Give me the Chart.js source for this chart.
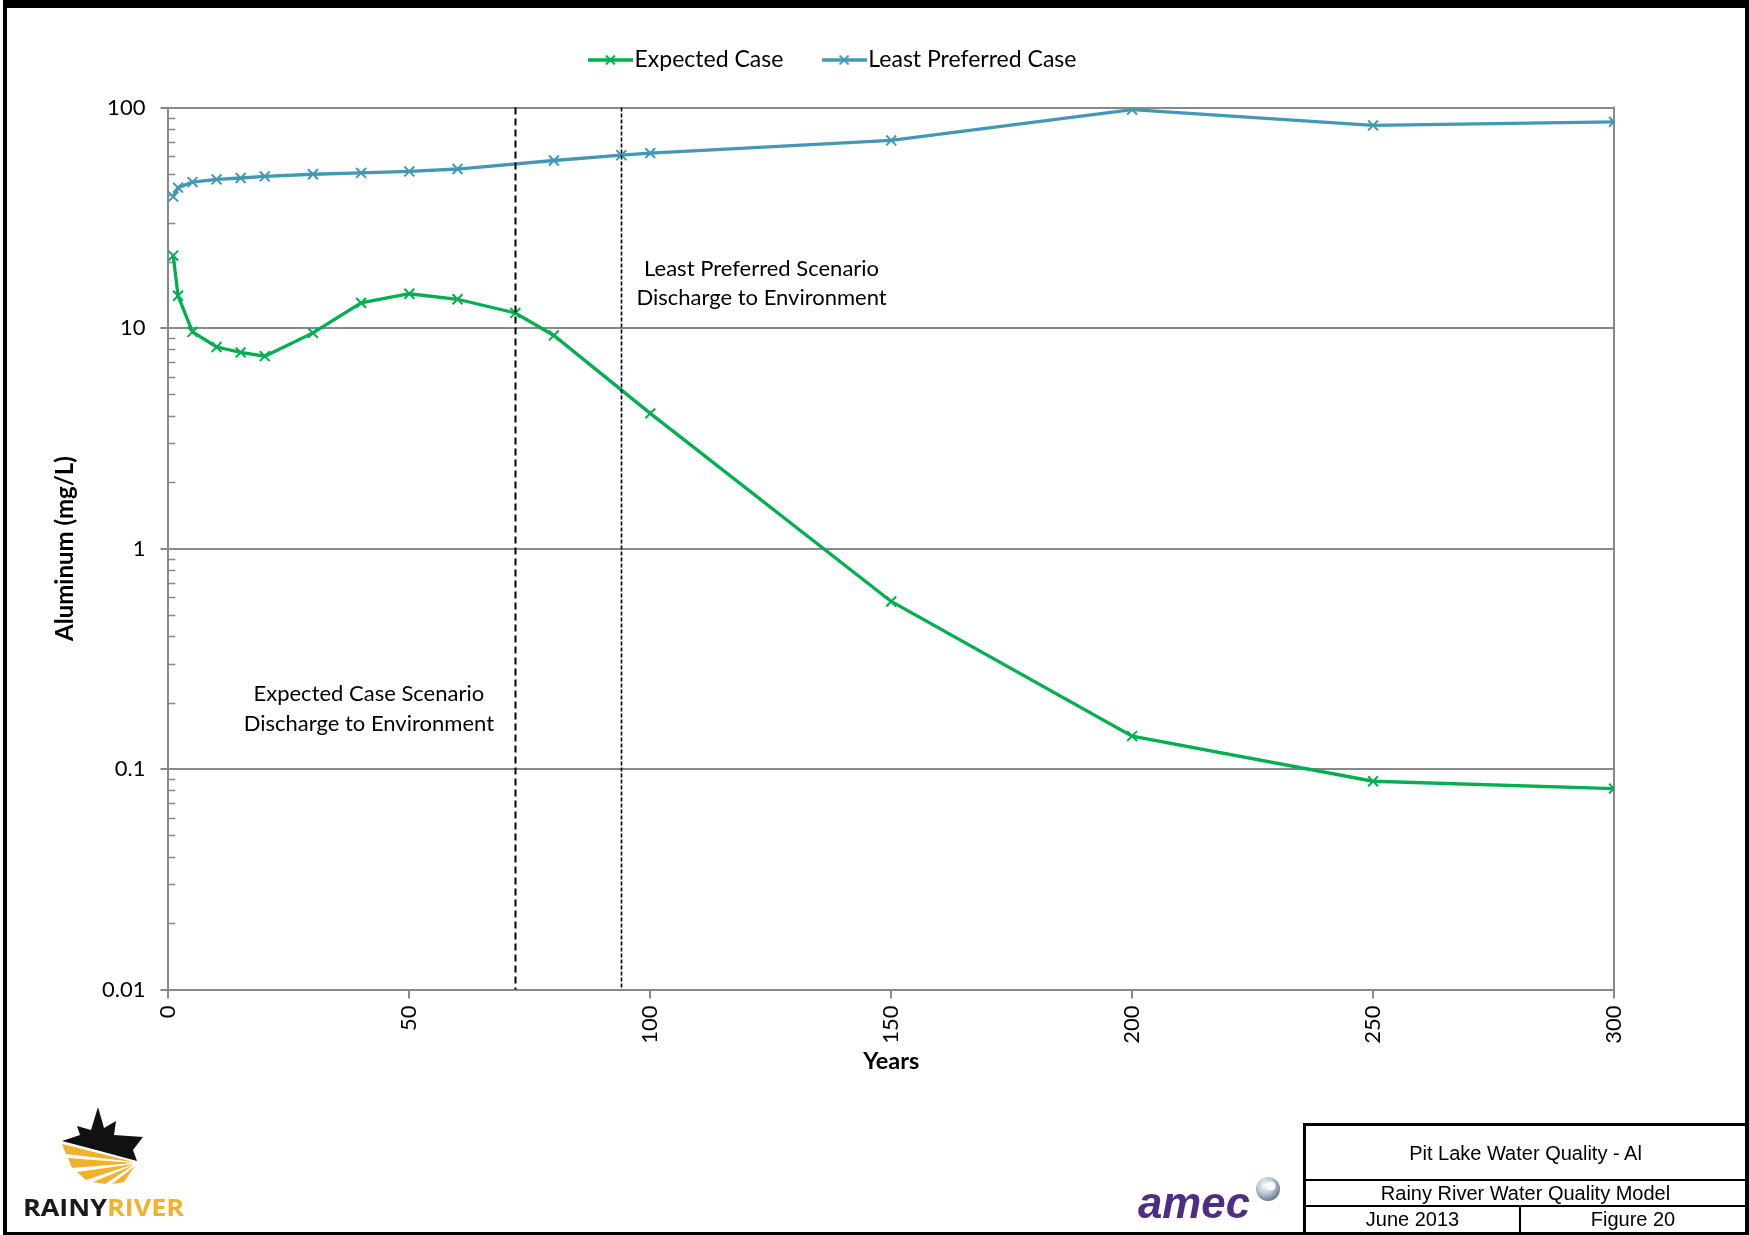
<!DOCTYPE html>
<html>
<head>
<meta charset="utf-8">
<script src="https://cdn.jsdelivr.net/npm/chart.js@4/dist/chart.umd.min.js"></script>
<style>
html,body{margin:0;padding:0;background:#fff;}
#wrap{position:relative;width:1749px;height:1235px;overflow:hidden;background:#fff;}
#c{position:absolute;left:0;top:0;}
#frame{position:absolute;left:3px;top:0;width:1746px;height:1235px;box-sizing:border-box;border-style:solid;border-color:#000;border-width:8px 4px 3px 4px;pointer-events:none;}
.bl{position:absolute;background:#000;}
.tt{position:absolute;text-align:center;font-family:"Liberation Sans",Arial,sans-serif;font-size:20px;color:#000;white-space:nowrap;}
svg{position:absolute;overflow:visible;}
</style>
</head>
<body>
<div id="wrap">
<canvas id="c" width="1749" height="1235"></canvas>

<!-- Rainy River logo -->
<svg style="left:0;top:0" width="260" height="1235" viewBox="0 0 260 1235">
  <polygon fill="#111" points="98,1107 104,1128 116,1121 114,1135 143,1137 133,1150 137,1161 100,1151 62,1141 80,1135 77,1126 91,1130"/>
  <polygon fill="#F2B12B" points="134,1162 62,1144 66,1154"/>
  <polygon fill="#F2B12B" points="134,1163 68,1158 72,1168"/>
  <polygon fill="#F2B12B" points="134,1164 77,1172 86,1180"/>
  <polygon fill="#F2B12B" points="134,1165 93,1182 105,1184"/>
  <polygon fill="#F2B12B" points="135,1166 112,1184 124,1182"/>
  <text x="23" y="1216" font-family="Open Sans, Lato, sans-serif" font-weight="700" font-size="24" textLength="161" lengthAdjust="spacingAndGlyphs"><tspan fill="#1a1a1a">RAINY</tspan><tspan fill="#F2B12B">RIVER</tspan></text>
</svg>

<!-- amec logo -->
<svg style="left:1130px;top:1170px" width="160" height="60" viewBox="0 0 160 60">
  <defs>
    <radialGradient id="ball" cx="0.4" cy="0.35" r="0.7">
      <stop offset="0" stop-color="#ffffff"/>
      <stop offset="0.5" stop-color="#b9c6d4"/>
      <stop offset="1" stop-color="#5f7286"/>
    </radialGradient>
  </defs>
  <text x="8" y="48" font-family="Liberation Sans, Arial, sans-serif" font-weight="700" font-style="italic" font-size="44" fill="#4F2D84" textLength="112" lengthAdjust="spacingAndGlyphs">amec</text>
  <circle cx="138" cy="19" r="12" fill="url(#ball)"/>
  <circle cx="141" cy="16" r="4.5" fill="#ffffff" opacity="0.9"/>
</svg>

<!-- title block -->
<div class="bl" style="left:1303px;top:1123px;width:446px;height:3px;"></div>
<div class="bl" style="left:1303px;top:1123px;width:3px;height:112px;"></div>
<div class="bl" style="left:1303px;top:1179px;width:446px;height:2px;"></div>
<div class="bl" style="left:1303px;top:1205px;width:446px;height:2px;"></div>
<div class="bl" style="left:1519px;top:1205px;width:2px;height:30px;"></div>
<div class="tt" style="left:1306px;top:1127px;width:439px;height:52px;line-height:52px;">Pit Lake Water Quality - Al</div>
<div class="tt" style="left:1306px;top:1181px;width:439px;height:24px;line-height:24px;">Rainy River Water Quality Model</div>
<div class="tt" style="left:1306px;top:1207px;width:213px;height:25px;line-height:25px;">June 2013</div>
<div class="tt" style="left:1521px;top:1207px;width:224px;height:25px;line-height:25px;">Figure 20</div>

<div id="frame"></div>
</div>

<script>
// ---- data ----
const expectedYears = [1, 2, 5, 10, 15, 20, 30, 40, 50, 60, 72, 80, 100, 150, 200, 250, 300];
const expectedAl    = [21.3, 14.0, 9.6, 8.2, 7.75, 7.45, 9.5, 13.0, 14.3, 13.5, 11.7, 9.25, 4.1, 0.575, 0.141, 0.088, 0.0815];
const leastYears    = [1, 2, 5, 10, 15, 20, 30, 40, 50, 60, 80, 94, 100, 150, 200, 250, 300];
const leastAl       = [39.4, 43.3, 45.9, 47.2, 47.9, 48.7, 49.8, 50.5, 51.3, 52.6, 57.5, 60.8, 62.1, 70.9, 97.9, 82.9, 86.1];
const seriesNames   = ['Expected Case', 'Least Preferred Case'];
const seriesColors  = ['#00B050', '#4298B5'];
const yTickValues   = [0.01, 0.1, 1, 10, 100];
const yTickLabels   = ['0.01', '0.1', '1', '10', '100'];
const xTickValues   = [0, 50, 100, 150, 200, 250, 300];
const dischargeYears = [72, 94];
const noteLines = [
  ['Least Preferred Scenario', 'Discharge to Environment'],
  ['Expected Case Scenario', 'Discharge to Environment']
];
const axisTitles = {x: 'Years', y: 'Aluminum (mg/L)'};

// ---- styling ----
const GRID = '#898989';
const FONT = 'Lato, "Open Sans", sans-serif';

function makeIcon(color) {
  const c = document.createElement('canvas');
  c.width = 45; c.height = 14;
  const g = c.getContext('2d');
  g.strokeStyle = color;
  g.lineWidth = 3.3;
  g.beginPath(); g.moveTo(0, 7); g.lineTo(45, 7); g.stroke();
  g.lineWidth = 2;
  g.beginPath(); g.moveTo(18, 2.5); g.lineTo(27, 11.5); g.moveTo(27, 2.5); g.lineTo(18, 11.5); g.stroke();
  return c;
}
const icons = seriesColors.map(makeIcon);

const toPts = (xs, ys) => xs.map((x, i) => ({x: x, y: ys[i]}));

const overlay = {
  id: 'overlay',
  afterLayout(chart) {
    // nudge the legend row to its position in the reference
    if (chart.legend) { chart.legend.left += 10; chart.legend.right += 10; }
  },
  beforeDatasetsDraw(chart) {
    const {ctx, chartArea: a, scales: {y}} = chart;
    ctx.save();
    ctx.strokeStyle = GRID;
    ctx.lineWidth = 2;
    ctx.beginPath();
    ctx.moveTo(a.right, a.top - 1);
    ctx.lineTo(a.right, a.bottom);
    ctx.stroke();
    // minor log ticks inside the axis
    ctx.lineWidth = 1.5;
    ctx.beginPath();
    for (let d = 0; d < yTickValues.length - 1; d++) {
      for (let k = 2; k <= 9; k++) {
        const py = Math.round(y.getPixelForValue(yTickValues[d] * k)) + 0.5;
        ctx.moveTo(a.left, py);
        ctx.lineTo(a.left + 7, py);
      }
    }
    ctx.stroke();
    ctx.restore();
  },
  afterDatasetsDraw(chart) {
    const {ctx, chartArea: a, scales: {x, y}} = chart;
    ctx.save();
    const dashes = [[7, 4], [4, 2]];
    const widths = [2, 1.6];
    dischargeYears.forEach((yr, i) => {
      const px = Math.round(x.getPixelForValue(yr)) + 0.5;
      ctx.setLineDash(dashes[i]);
      ctx.lineWidth = widths[i];
      ctx.strokeStyle = '#000';
      ctx.beginPath();
      ctx.moveTo(px, a.top);
      ctx.lineTo(px, a.bottom);
      ctx.stroke();
    });
    ctx.setLineDash([]);
    ctx.fillStyle = '#000';
    ctx.font = '22px ' + FONT;
    ctx.textAlign = 'center';
    ctx.textBaseline = 'middle';
    const anchors = [[123.1, 18.56], [41.6, 0.219]];
    noteLines.forEach((lines, i) => {
      const cx = x.getPixelForValue(anchors[i][0]);
      const cy = y.getPixelForValue(anchors[i][1]);
      lines.forEach((t, j) => ctx.fillText(t, cx, cy + j * 29.5));
    });
    ctx.restore();
  }
};

function seriesDataset(i, xs, ys) {
  return {
    label: seriesNames[i],
    data: toPts(xs, ys),
    borderColor: seriesColors[i],
    backgroundColor: seriesColors[i],
    borderWidth: 3.3,
    pointStyle: 'crossRot',
    pointRadius: 7,
    pointBorderWidth: 2,
    pointBorderColor: seriesColors[i],
    tension: 0,
    fill: false
  };
}

new Chart(document.getElementById('c'), {
  type: 'line',
  data: {
    datasets: [
      seriesDataset(0, expectedYears, expectedAl),
      seriesDataset(1, leastYears, leastAl)
    ]
  },
  options: {
    responsive: false,
    animation: false,
    devicePixelRatio: 1,
    layout: {padding: {left: 40, right: 135, top: 0.5, bottom: 150}},
    plugins: {
      tooltip: {enabled: false},
      legend: {
        display: true,
        position: 'top',
        labels: {
          usePointStyle: true,
          pointStyleWidth: 25.5,
          padding: 48,
          color: '#000',
          font: {family: FONT, size: 23},
          generateLabels(chart) {
            const items = Chart.defaults.plugins.legend.labels.generateLabels(chart);
            items.forEach((it, i) => { it.pointStyle = icons[i]; });
            return items;
          }
        }
      },
      subtitle: {
        display: true,
        text: '',
        weight: 500,
        position: 'top',
        padding: {top: 16, bottom: 0},
        font: {size: 10, lineHeight: 1}
      }
    },
    scales: {
      x: {
        type: 'linear',
        min: 0,
        max: 300,
        afterBuildTicks(s) { s.ticks = xTickValues.map(v => ({value: v})); },
        afterFit(s) { s.height = 95.5; },
        grid: {display: true, drawOnChartArea: false, drawTicks: true, tickLength: 9, color: GRID, lineWidth: 2},
        border: {display: true, color: GRID, width: 2},
        ticks: {
          autoSkip: false, maxRotation: 90, minRotation: 90, padding: 7,
          color: '#000', font: {family: FONT, size: 22}
        },
        title: {
          display: true, text: axisTitles.x, color: '#000',
          font: {family: FONT, size: 23.5, weight: 'bold', lineHeight: 1.2},
          padding: {top: 0, bottom: 9.9}
        }
      },
      y: {
        type: 'logarithmic',
        min: 0.01,
        max: 100,
        afterBuildTicks(s) { s.ticks = yTickValues.map(v => ({value: v})); },
        afterFit(s) { s.width = 128.4; },
        grid: {display: true, drawOnChartArea: true, drawTicks: true, tickLength: 8, color: GRID, lineWidth: 2},
        border: {display: true, color: GRID, width: 2},
        ticks: {
          padding: 15,
          color: '#000',
          font: {family: FONT, size: 22},
          callback(v) {
            const i = yTickValues.findIndex(t => Math.abs(t - v) < t * 1e-6);
            return i >= 0 ? yTickLabels[i] : '';
          }
        },
        title: {
          display: true, text: axisTitles.y, color: '#000',
          font: {family: FONT, size: 24, weight: 'bold', lineHeight: 1.2},
          padding: {top: 10.6, bottom: 0}
        }
      }
    }
  },
  plugins: [overlay]
});
</script>
</body>
</html>
